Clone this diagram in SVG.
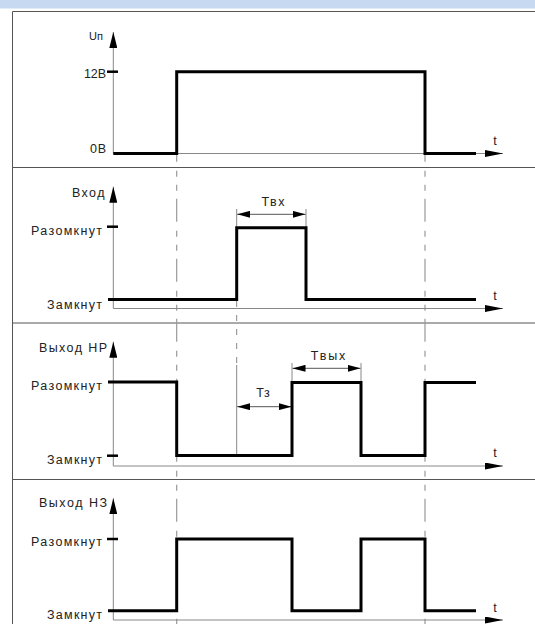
<svg xmlns="http://www.w3.org/2000/svg" width="535" height="624" viewBox="0 0 535 624">
<style>
.frame{stroke:#555;stroke-width:1;fill:none}
.axis{stroke:#888;stroke-width:1;fill:none}
.sig{stroke:#000;stroke-width:3;fill:none;stroke-linejoin:miter;stroke-linecap:butt}
.tick{stroke:#000;stroke-width:2.5}
.dd{stroke:#999;stroke-width:1.2;fill:none;stroke-dasharray:23 9 6 8 6 8;stroke-dashoffset:14.7}
.ext{stroke:#888;stroke-width:1;fill:none}
.dim{stroke:#555;stroke-width:1;fill:none}
text{font-family:"Liberation Sans",Arial,sans-serif;font-size:12.5px;fill:#222}
.lbl{text-anchor:end}
.dl{text-anchor:middle;font-size:12.5px}
</style>
<defs>
<marker id="ay" markerUnits="userSpaceOnUse" markerWidth="16" markerHeight="8" viewBox="0 0 16 8" refX="16" refY="4" orient="auto"><path d="M0,0 L16,4 L0,8 z" fill="#000"/></marker>
<marker id="ax" markerUnits="userSpaceOnUse" markerWidth="18" markerHeight="7" viewBox="0 0 18 7" refX="18" refY="3.5" orient="auto"><path d="M0,0 L18,3.5 L0,7 z" fill="#000"/></marker>
<marker id="ad" markerUnits="userSpaceOnUse" markerWidth="13" markerHeight="7" viewBox="0 0 13 7" refX="13" refY="3.5" orient="auto-start-reverse"><path d="M0,0 L13,3.5 L0,7 z" fill="#000"/></marker>
</defs>
<rect x="0" y="0" width="535" height="8.5" fill="#c6d9f1"/>
<g id="frame">
<path class="frame" d="M12.5,624 V11.5 H535"/>
<line class="frame" x1="12.5" y1="167.5" x2="535" y2="167.5"/>
<line class="frame" x1="12.5" y1="323" x2="535" y2="323"/>
<line class="frame" x1="12.5" y1="479.5" x2="535" y2="479.5"/>
</g>
<g id="connectors">
<line class="dd" x1="176.7" y1="153.5" x2="176.7" y2="624"/>
<line class="dd" x1="425" y1="153.5" x2="425" y2="624"/>
<line class="ext" x1="236.7" y1="209" x2="236.7" y2="301"/>
<line class="ext" x1="236.7" y1="301" x2="236.7" y2="365" stroke-dasharray="6 8"/>
<line class="ext" x1="236.7" y1="365" x2="236.7" y2="455.5"/>
<line class="ext" x1="306" y1="209" x2="306" y2="228"/>
<line class="ext" x1="292" y1="363" x2="292" y2="382"/>
<line class="ext" x1="361" y1="363" x2="361" y2="382"/>
<line class="dim" x1="237.2" y1="214.3" x2="305.5" y2="214.3" marker-start="url(#ad)" marker-end="url(#ad)"/>
<line class="dim" x1="237.2" y1="406.7" x2="291.5" y2="406.7" marker-start="url(#ad)" marker-end="url(#ad)"/>
<line class="dim" x1="292.5" y1="368.3" x2="360.5" y2="368.3" marker-start="url(#ad)" marker-end="url(#ad)"/>
</g>
<g id="panel-supply">
<line class="axis" x1="113.3" y1="153.5" x2="113.3" y2="32" marker-end="url(#ay)"/>
<line class="axis" x1="113.3" y1="153.5" x2="503" y2="153.5" marker-end="url(#ax)"/>
<line class="tick" x1="107" y1="71.7" x2="118" y2="71.7"/>
<polyline class="sig" points="113.3,153.5 176.7,153.5 176.7,71.7 425,71.7 425,153.5 476,153.5"/>
<text class="lbl" x="103" y="40" style="font-size:11px">Uп</text>
<text class="lbl" x="106" y="78" textLength="22" lengthAdjust="spacing">12В</text>
<text class="lbl" x="106" y="152.5" textLength="16" lengthAdjust="spacing">0В</text>
<text x="495" y="145" text-anchor="middle">t</text>
</g>
<g id="panel-input">
<line class="axis" x1="113.3" y1="308.5" x2="113.3" y2="186.7" marker-end="url(#ay)"/>
<line class="axis" x1="113.3" y1="308.5" x2="503" y2="308.5" marker-end="url(#ax)"/>
<line class="tick" x1="107" y1="226.7" x2="118" y2="226.7"/>
<polyline class="sig" points="108,299.5 236.7,299.5 236.7,227.7 306,227.7 306,299.5 476,299.5"/>
<text class="lbl" x="104.5" y="196.5" textLength="32.5" lengthAdjust="spacing">Вход</text>
<text class="lbl" x="102" y="234.5" textLength="71" lengthAdjust="spacing">Разомкнут</text>
<text class="lbl" x="102" y="308.5" textLength="55" lengthAdjust="spacing">Замкнут</text>
<text class="dl" x="273" y="206" textLength="23" lengthAdjust="spacing">Твх</text>
<text x="495" y="300" text-anchor="middle">t</text>
</g>
<g id="panel-no">
<line class="axis" x1="113.3" y1="466" x2="113.3" y2="341.7" marker-end="url(#ay)"/>
<line class="axis" x1="113.3" y1="466" x2="503" y2="466" marker-end="url(#ax)"/>
<line class="tick" x1="107" y1="455.7" x2="118" y2="455.7"/>
<polyline class="sig" points="108,382 176.7,382 176.7,455.5 292,455.5 292,382.5 361,382.5 361,455.5 425,455.5 425,382.5 476,382.5"/>
<text class="lbl" x="107" y="351.5" textLength="68" lengthAdjust="spacing">Выход НР</text>
<text class="lbl" x="102" y="390" textLength="71" lengthAdjust="spacing">Разомкнут</text>
<text class="lbl" x="102" y="464" textLength="55" lengthAdjust="spacing">Замкнут</text>
<text class="dl" x="263" y="397">Тз</text>
<text class="dl" x="328" y="360" textLength="34.5" lengthAdjust="spacing">Твых</text>
<text x="495" y="456.5" text-anchor="middle">t</text>
</g>
<g id="panel-nc">
<line class="axis" x1="113.3" y1="620" x2="113.3" y2="498.3" marker-end="url(#ay)"/>
<line class="axis" x1="113.3" y1="620" x2="503" y2="620" marker-end="url(#ax)"/>
<line class="tick" x1="107" y1="539" x2="118" y2="539"/>
<polyline class="sig" points="108,610.7 176.7,610.7 176.7,539 292,539 292,610.7 361,610.7 361,539 425,539 425,610.7 476,610.7"/>
<text class="lbl" x="107" y="507" textLength="68" lengthAdjust="spacing">Выход НЗ</text>
<text class="lbl" x="102" y="546" textLength="71" lengthAdjust="spacing">Разомкнут</text>
<text class="lbl" x="102" y="619" textLength="55" lengthAdjust="spacing">Замкнут</text>
<text x="495" y="611.5" text-anchor="middle">t</text>
</g>
</svg>
